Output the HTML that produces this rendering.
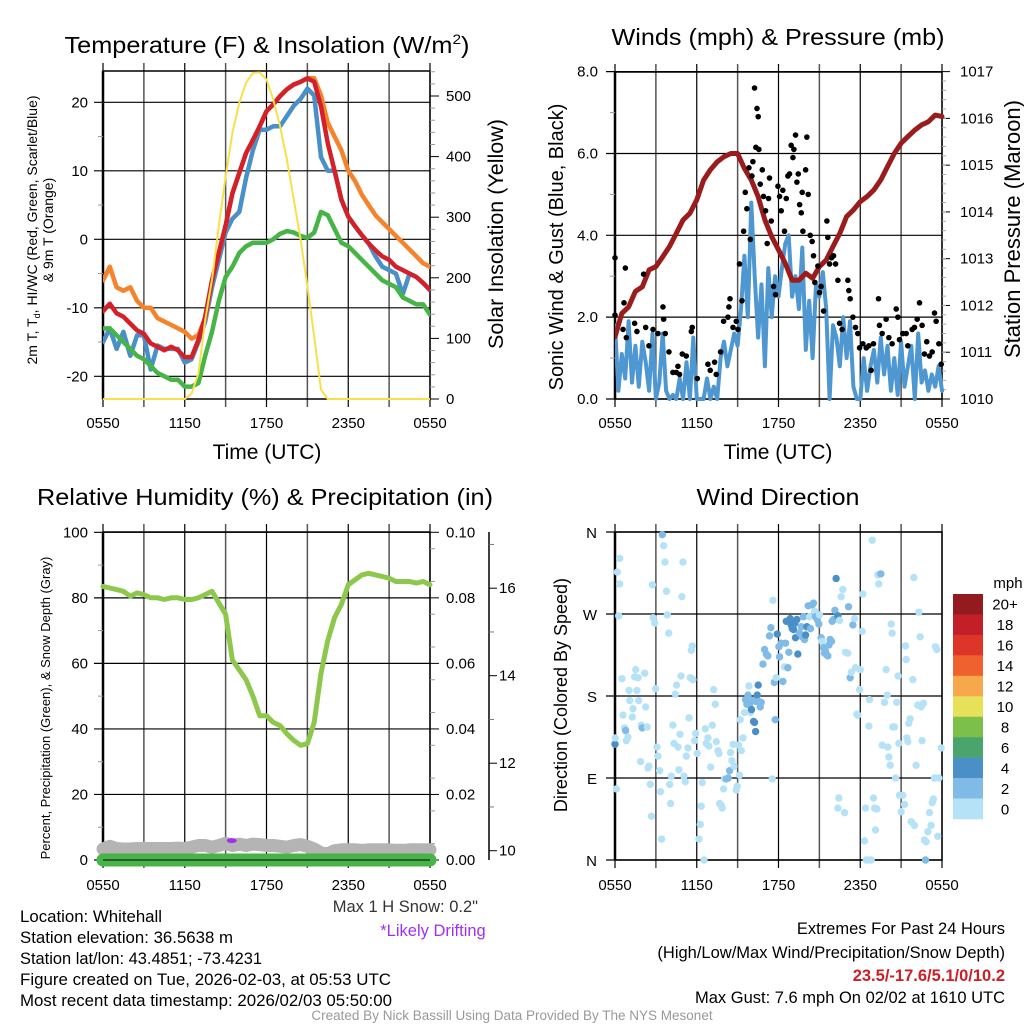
<!DOCTYPE html>
<html><head><meta charset="utf-8"><style>
html,body{margin:0;padding:0;background:#fff;}
svg{display:block;font-family:"Liberation Sans",sans-serif;}
</style></head><body>
<svg id="fig" width="1024" height="1024" viewBox="0 0 1024 1024" xmlns="http://www.w3.org/2000/svg">
<rect width="1024" height="1024" fill="#fff"/>
<g id="p1"></g>
<g id="p2"></g>
<g id="p3"></g>
<g id="p4"></g>
<g id="txt" font-size="16.5" fill="#000">
<text x="20" y="922" textLength="142" lengthAdjust="spacingAndGlyphs">Location: Whitehall</text>
<text x="20" y="943" textLength="213" lengthAdjust="spacingAndGlyphs">Station elevation: 36.5638 m</text>
<text x="20" y="964" textLength="242" lengthAdjust="spacingAndGlyphs">Station lat/lon: 43.4851; -73.4231</text>
<text x="20" y="985" textLength="371" lengthAdjust="spacingAndGlyphs">Figure created on Tue, 2026-02-03, at 05:53 UTC</text>
<text x="20" y="1006" textLength="372" lengthAdjust="spacingAndGlyphs">Most recent data timestamp: 2026/02/03 05:50:00</text>
<text x="478" y="912" text-anchor="end" fill="#333">Max 1 H Snow: 0.2"</text>
<text x="433" y="936" text-anchor="middle" fill="#a030f0">*Likely Drifting</text>
<text x="1005" y="934" text-anchor="end">Extremes For Past 24 Hours</text>
<text x="1005" y="958" text-anchor="end">(High/Low/Max Wind/Precipitation/Snow Depth)</text>
<text x="1005" y="981" text-anchor="end" fill="#cc1f26" font-weight="bold">23.5/-17.6/5.1/0/10.2</text>
<text x="1005" y="1003" text-anchor="end">Max Gust: 7.6 mph On 02/02 at 1610 UTC</text>
<text x="512" y="1020" text-anchor="middle" fill="#999" font-size="13.5">Created By Nick Bassill Using Data Provided By The NYS Mesonet</text>
</g>
</svg>
<script>
// ---------- data (half-hourly, t = hours since 0550 UTC) ----------
const tempRed = [-10.5,-9.4,-10.8,-11.3,-12.3,-13.3,-13.8,-15.2,-15.7,-16.2,-15.7,-16.2,-17.2,-17.2,-14.7,-11.3,-6,-2,2,6.7,9.7,12.6,14.5,16.5,18.7,19.7,20.9,21.9,22.6,23,23.5,23,19.4,14,10,5.8,3.3,1.9,0.6,-0.6,-1.6,-2.5,-3,-4,-4.5,-5,-5.5,-6.4,-7.4];
const temp9m = [-6,-4,-7,-7.5,-7,-9,-10,-10,-11.5,-12,-12.5,-13,-13.5,-14.5,-14,-11.5,-6,-2,2,6.7,9.7,12.6,14.5,16.5,18.7,19.7,20.9,21.9,22.6,23,23.5,23.5,21,17,15,13,10,8.5,6.5,5,3.5,2.5,1.5,0.5,-0.5,-1.5,-2.5,-3.5,-4];
const dewpt = [-13,-13,-14,-15,-16,-17,-17.5,-18.5,-19.5,-20,-20.5,-20.5,-21.5,-21.5,-21,-17,-13.5,-9,-5.5,-4,-2,-1,-0.5,-0.5,-0.5,0,0.8,1.2,1,0.5,0.2,1,4,3.5,1.5,-0.5,-1,-2,-3,-4,-5,-6,-6.5,-7,-8.5,-9,-9.5,-9.5,-11];
const windChill = [-15,-13,-16,-13.5,-17,-14,-14,-19,-15.5,-16,-16,-16,-18,-17.5,-15,-12,-7,-3,1,3,4,9,13,16,16,16.5,16.5,18,19.5,20.5,22,21,12,10,10,5.8,3.3,1.9,0.6,-0.6,-2.5,-4,-4.5,-5,-8,-5,-5.5,-6.4,-7.4];
const solar = [0,0,0,0,0,0,0,0,0,0,0,0,0,9,42,130,197,285,367,439,489,522,538,539,527,494,450,395,329,263,186,103,15,0,0,0,0,0,0,0,0,0,0,0,0,0,0,0,0];
const pressure = [1011.33,1011.83,1011.97,1012.3,1012.4,1012.76,1012.83,1013.04,1013.26,1013.54,1013.83,1013.97,1014.26,1014.68,1014.9,1015.07,1015.18,1015.25,1015.25,1014.93,1014.68,1014.33,1013.83,1013.47,1013.19,1012.9,1012.54,1012.54,1012.69,1012.58,1012.83,1012.97,1013.26,1013.54,1013.9,1014.04,1014.22,1014.33,1014.47,1014.68,1014.97,1015.25,1015.47,1015.61,1015.75,1015.86,1015.93,1016.07,1016.04];
const rh = [83.5,83,82.5,82,80.5,81.5,81,80,80,79.5,80,80,79.5,79.5,80,81,82,78.5,75,61,58,55,50,44,44,42,41,38.5,36.5,35,35.5,42,57,67,74,78,84,85.5,87,87.5,87,86.5,86,85,85,85,84.5,85,84];
const snowDepth = [10.04,10.1,10.05,10.04,10.04,10.05,10.05,10.05,10.05,10.05,10.05,10.06,10.05,10.08,10.12,10.12,10.08,10.12,10.17,10.12,10.15,10.12,10.15,10.14,10.12,10.12,10.1,10.08,10.12,10.14,10.1,10.04,9.95,9.93,10.0,10.02,10.02,10.02,10.01,10.02,10.02,10.02,10.02,10.01,10.01,10.02,10.02,10.02,10.02];
const precip = [0,0,0,0,0,0,0,0,0,0,0,0,0,0,0,0,0,0,0,0,0,0,0,0,0,0,0,0,0,0,0,0,0,0,0,0,0,0,0,0,0,0,0,0,0,0,0,0,0];
// sonic wind, 15-minute intervals (mph)
const wind = [1.8,0.2,1.1,0.5,1.9,0.4,1.3,0.3,1.4,0.9,0.2,1.6,
0.0,0.4,1.6,0.2,0.0,0.1,0.0,0.5,0.0,0.9,0.0,1.5,
0.0,0.0,0.0,0.5,0.0,0.3,0.0,1.0,1.4,0.8,1.2,1.6,
1.3,2.2,3.5,2.0,4.8,3.0,1.5,2.8,0.8,3.2,2.0,3.0,
2.5,3.2,3.8,4.0,2.5,3.0,2.2,3.7,1.2,2.4,1.0,2.8,
2.5,3.1,2.2,0.0,1.8,1.5,0.8,2.0,1.0,1.9,0.3,0.0,
0.0,1.0,0.2,0.8,1.2,0.4,1.5,0.6,1.3,0.2,1.0,0.1,
1.4,0.3,0.8,1.3,0.0,1.6,0.4,0.7,0.2,0.6,0.3,0.8,0.2];
// gusts
const gustT = [0,0,0.76,0.66,0.59,0.83,1.44,1.61,2.10,2.25,2.49,2.79,3.15,3.52,3.57,3.69,3.96,4.25,4.50,4.62,4.74,4.94,5.23,5.60,5.67,6.04,6.82,6.99,7.31,7.43,7.75,7.97,8.29,8.36,8.44,8.66,8.90,9.02,9.14,9.32,9.44,9.56,9.68,9.83,9.93,10.05,10.12,10.24,10.42,10.51,10.34,10.56,10.66,10.81,10.90,11.05,11.17,11.27,11.34,11.47,11.64,11.78,11.96,12.08,12.20,12.32,12.44,12.57,12.69,12.81,12.93,13.06,13.13,13.25,13.35,13.45,13.55,13.67,13.74,13.79,13.99,14.08,14.18,14.33,14.47,14.57,14.67,14.89,15.01,15.13,15.31,15.55,15.62,15.75,15.89,16.04,16.19,16.36,16.48,16.67,17.09,17.16,17.26,17.46,17.65,17.82,17.95,18.19,18.44,18.63,18.80,18.97,19.34,19.41,19.61,19.90,20.10,20.34,20.64,20.76,20.88,21.12,21.37,21.49,21.81,21.98,22.18,22.35,22.54,22.71,22.88,23.08,23.28,23.45,23.57,23.77,23.94];
const gustV = [3.45,2.05,3.2,2.35,1.7,1.5,1.85,1.65,3.05,1.75,1.3,1.7,1.6,2.25,1.95,1.6,1.15,0.65,0.65,0.8,0.6,1.1,1.05,1.65,1.75,0.5,0.85,0.7,0.9,0.6,1.15,1.9,2.0,2.25,2.45,1.75,1.9,1.7,3.3,2.4,4.1,5.05,4.65,5.65,3.9,5.45,5.8,7.6,7.1,6.9,6.15,6.1,5.25,5.6,4.95,4.6,3.8,4.9,5.4,4.35,2.75,2.55,5.2,4.95,4.6,5.1,4.1,4.9,5.45,5.5,6.2,5.9,6.1,6.45,5.3,5.5,4.75,4.55,5.05,4.1,5.6,6.4,5.0,4.0,3.85,3.5,2.85,3.25,2.6,2.75,2.15,4.35,3.95,3.3,3.45,3.5,3.3,2.9,1.85,1.7,2.9,2.65,2.45,2.0,1.75,1.6,1.25,1.35,1.25,1.3,0.7,1.35,2.45,1.8,1.6,1.95,1.5,1.35,2.2,2.0,1.45,1.6,1.6,1.3,1.7,1.75,1.95,2.35,1.8,1.1,1.4,1.05,1.15,2.1,1.9,1.35,0.85];
// wind direction scatter
const dirT = [0,0.10,0.02,0.34,0.17,0.34,0.27,0.51,0.59,0.71,0.78,0.83,0.95,1.03,1.08,1.32,1.27,1.44,1.52,1.61,1.74,1.69,1.88,1.93,2.00,2.18,2.25,2.37,2.42,2.49,2.59,2.67,2.74,2.79,2.91,2.98,3.08,3.15,3.28,3.35,3.42,3.47,3.57,3.67,3.77,3.84,3.94,4.01,4.08,4.13,4.25,4.33,4.43,4.52,4.62,4.69,4.77,4.84,4.91,4.99,5.06,5.16,5.23,5.35,5.43,5.53,5.60,5.67,5.72,5.84,5.92,6.04,6.16,6.26,6.33,6.41,6.53,6.63,6.70,6.82,6.89,7.02,7.14,7.24,7.36,7.43,7.56,7.63,7.68,7.80,7.87,7.97,8.04,8.17,8.31,8.41,8.48,8.58,8.66,8.73,8.90,8.97,9.07,9.14,9.19,9.27,9.39,9.51,9.58,9.68,9.76,9.83,9.88,9.95,10.02,10.10,10.17,10.24,10.32,10.37,10.44,10.51,10.56,10.66,10.73,10.86,10.98,11.10,11.22,11.34,11.44,11.54,11.59,11.69,11.76,11.83,11.91,12.03,12.08,12.20,12.32,12.44,12.52,12.57,12.69,12.76,12.86,12.93,13.01,13.11,13.20,13.25,13.35,13.42,13.55,13.67,13.74,13.84,13.91,13.99,14.08,14.18,14.28,14.35,14.47,14.57,14.65,14.72,14.84,14.96,15.01,15.13,15.21,15.31,15.38,15.45,15.55,15.62,15.70,15.79,15.89,15.94,16.04,16.14,16.23,16.36,16.43,16.48,16.36,16.60,16.72,16.85,16.92,17.09,17.14,17.26,17.34,17.46,17.58,17.65,17.75,17.82,17.95,18.00,18.14,18.19,18.31,18.39,18.44,18.56,18.63,18.68,18.80,18.88,18.97,19.05,19.12,19.22,19.29,19.36,19.51,19.61,19.78,19.90,19.98,20.02,20.10,20.20,20.27,20.34,20.39,20.51,20.59,20.68,20.78,20.83,20.88,21.00,21.12,21.25,21.32,21.37,21.42,21.49,21.56,21.66,21.74,21.86,21.93,21.98,22.10,22.22,22.30,22.40,22.47,22.54,22.64,22.71,22.79,22.84,22.96,23.08,23.20,23.28,23.37,23.45,23.52,23.62,23.69,23.77,23.94];
const dirDeg = [127,78,134,331,316,303,268,199,159,145,142,131,135,186,175,166,157,201,209,186,175,200,108,148,145,205,168,146,101,103,83,48,302,266,260,188,124,114,98,75,23,357,345,327,295,269,249,83,62,92,148,128,182,192,124,99,138,202,289,327,92,86,114,123,156,200,230,235,198,131,139,117,23,39,59,85,0,144,128,134,125,102,148,187,171,130,120,117,62,60,57,78,89,89,90,98,118,109,127,103,77,81,126,93,154,120,134,162,176,171,181,191,170,162,165,175,152,151,141,174,181,192,174,168,173,215,231,226,224,246,255,89,285,195,154,200,248,234,223,238,196,212,238,262,211,228,265,258,254,253,260,244,264,226,249,256,245,267,242,247,256,279,267,254,280,282,273,267,264,259,269,244,240,233,227,229,225,224,236,242,240,262,264,274,309,268,68,263,57,289,297,52,228,227,278,200,206,258,265,211,160,159,187,209,251,292,21,57,0,0,147,176,0,351,68,57,33,56,313,303,314,126,173,209,181,124,113,104,259,249,146,146,90,173,202,128,71,53,71,61,235,220,134,130,150,155,42,198,310,38,104,170,272,245,168,131,172,22,0,20,31,52,38,63,67,90,234,231,26,90,123];
const dirSpd = [5,1,1,1,1,1,1,1,1,1,3,1,1,1,1,1,1,1,1,1,1,1,1,1,3,1,1,1,1,1,1,1,1,1,1,1,1,1,1,1,1,3,1,1,1,1,1,1,1,1,1,1,1,1,1,1,1,1,1,1,1,1,1,1,1,1,1,1,1,1,1,1,1,1,1,1,1,1,1,1,1,1,1,1,1,1,1,1,1,1,1,1,1,3,3,3,1,1,1,1,1,1,1,1,1,1,1,1,3,3,3,1,3,1,5,3,5,5,5,3,5,5,3,3,3,3,3,3,3,3,3,1,1,3,3,1,5,3,3,3,3,1,3,5,3,3,5,5,5,5,5,5,5,5,3,3,3,3,3,5,5,3,1,3,3,3,1,3,3,3,1,3,1,3,3,3,3,3,3,3,3,3,3,3,5,5,1,1,1,1,1,1,1,1,3,3,1,3,1,1,1,1,1,1,1,1,1,1,1,1,1,1,1,1,1,1,1,1,1,1,3,1,1,1,1,1,1,1,1,1,1,1,1,1,1,1,1,1,1,1,1,1,1,1,1,1,1,1,1,1,1,1,1,1,1,1,1,1,3,1,1,1,1,1,1,1,1,1,1,1,1,1,1,1,1,1,1];
const timeLabels = ["0550","1150","1750","2350","0550"];
const tempTicks = [20,10,0,-10,-20];
const solarTicks = [0,100,200,300,400,500];
const windTicks = ["0.0","2.0","4.0","6.0","8.0"];
const presTicks = [1010,1011,1012,1013,1014,1015,1016,1017];
const rhTicks = [0,20,40,60,80,100];
const precipTicks = ["0.00","0.02","0.04","0.06","0.08","0.10"];
const snowTicks = [10,12,14,16];
const dirLabels = ["N","E","S","W","N"];
const cbarLabels = ["20+","18","16","14","12","10","8","6","4","2","0"];
const cbarColors = ["#931a1d","#c21f28","#dd3527","#ef6230","#f6a84a","#e7e15a","#7cc04b","#4aa56c","#4a8fc7","#7fbbe6","#b6e2f8"];

// ---------- helpers ----------
const NS="http://www.w3.org/2000/svg";
function el(parent, tag, attrs){const e=document.createElementNS(NS,tag);for(const k in attrs)e.setAttribute(k,attrs[k]);parent.appendChild(e);return e;}
const X0L=103,X0R=615,PW=327;
function xs(x0){return t=>x0+t/24*PW;}
const half = i=>i*0.5, quarter=i=>i*0.25;

function frame(g,x0,top,bot,hlines){
  for(let k=0;k<=8;k++){
    const x=x0+k*PW/8;
    const ln=el(g,'line',{x1:x,x2:x,y1:top-8,y2:bot+8,stroke:(k%2==0)?'#000':'#555','stroke-width':(k%2==0)?1.2:1.5});
    
  }
  hlines.forEach(y=>{const ln=el(g,'line',{x1:x0-9,x2:x0+PW,y1:y,y2:y,stroke:'#000','stroke-width':1.2});
    });
  const r=el(g,'rect',{x:x0,y:top,width:PW,height:bot-top,fill:'none',stroke:'#000','stroke-width':1.5});
  
  el(g,'line',{x1:x0,x2:x0,y1:top,y2:bot,stroke:'#000','stroke-width':2.5});
}
function xlabels(g,x0,y){
  timeLabels.forEach((s,i)=>{const t=el(g,'text',{x:x0+i*PW/4,y:y,'text-anchor':'middle','font-size':15});t.textContent=s;
    });
}
function path(g,xf,yf,vals,tf,attrs,name){
  let d='';vals.forEach((v,i)=>{if(v==null)return;d+=(d?'L':'M')+xf(tf(i)).toFixed(1)+','+yf(v).toFixed(1);});
  const p=el(g,'path',Object.assign({d:d,fill:'none','stroke-linejoin':'round','stroke-linecap':'round'},attrs));
  return p;
}
function txt(g,x,y,s,attrs,name,rot){
  const t=el(g,'text',Object.assign({x:x,y:y},attrs));t.textContent=s;
  if(rot)t.setAttribute('transform','rotate(-90 '+x+' '+y+')');
  return t;
}
function title(g,cx,y,s,w,name){
  return txt(g,cx,y,s,{'font-size':23,'text-anchor':'middle',textLength:w,lengthAdjust:'spacingAndGlyphs'},name||'panel-title');
}

// ---------- Panel 1 ----------
(function(){
  const g=document.getElementById('p1');const x=xs(X0L);
  const yT=v=>239.3-v*6.85, yS=v=>399-v*0.606;
  frame(g,X0L,71,399,tempTicks.map(yT));
  [15,5,-5,-15].forEach(v=>el(g,'line',{x1:X0L-5,x2:X0L,y1:yT(v),y2:yT(v),stroke:'#999'}));
  solarTicks.forEach(v=>{el(g,'line',{x1:430,x2:439,y1:yS(v),y2:yS(v),stroke:'#000'});
    txt(g,446,yS(v)+5,String(v),{'font-size':15},'solar-tick-label');});
  for(let v=20;v<=540;v+=20)if(v%100)el(g,'line',{x1:430,x2:435,y1:yS(v),y2:yS(v),stroke:'#999'});
  tempTicks.forEach(v=>txt(g,88,yT(v)+5,String(v),{'font-size':15,'text-anchor':'end'},'temp-tick-label'));
  xlabels(g,X0L,428);
  const clip=el(g,'clipPath',{id:'c1'});el(clip,'rect',{x:X0L,y:68,width:PW,height:334});
  const s=el(g,'g',{'clip-path':'url(#c1)'});
  path(s,x,yT,windChill,half,{stroke:'#4a90c8','stroke-width':4.5},'wind-chill-line');
  path(s,x,yT,dewpt,half,{stroke:'#46b446','stroke-width':4.5},'dewpoint-line');
  path(s,x,yT,temp9m,half,{stroke:'#f5832c','stroke-width':4.5},'temp-9m-line');
  path(s,x,yT,tempRed,half,{stroke:'#d42129','stroke-width':4.5},'temp-2m-line');
  path(s,x,yS,solar,half,{stroke:'#f8e04a','stroke-width':2},'solar-line');
  const t1=txt(g,267,53,'',{'font-size':23,'text-anchor':'middle',textLength:405,lengthAdjust:'spacingAndGlyphs'},'panel-title');
  t1.innerHTML='Temperature (F) &amp; Insolation (W/m<tspan font-size="14" dy="-9">2</tspan><tspan dy="9">)</tspan>';
  txt(g,267,459,'Time (UTC)',{'font-size':21,'text-anchor':'middle'},'x-axis-title');
  txt(g,37,230,'',{'font-size':14,'text-anchor':'middle'},'y-axis-title',true).innerHTML='2m T, T<tspan font-size="9" dy="3">d</tspan><tspan dy="-3">, HI/WC (Red, Green, Scarlet/Blue)</tspan>';
  txt(g,53,230,'& 9m T (Orange)',{'font-size':14,'text-anchor':'middle'},'y-axis-title-2',true);
  txt(g,503,234,'Solar Insolation (Yellow)',{'font-size':21.5,'text-anchor':'middle'},'right-axis-title',true);
})();

// ---------- Panel 2 ----------
(function(){
  const g=document.getElementById('p2');const x=xs(X0R);
  const yW=v=>399-v*40.92, yP=p=>399-(p-1010)*46.77;
  frame(g,X0R,72,399,windTicks.map(s=>yW(parseFloat(s))));
  [1,3,5,7].forEach(v=>el(g,'line',{x1:X0R-5,x2:X0R,y1:yW(v),y2:yW(v),stroke:'#999'}));
  windTicks.forEach(s=>txt(g,598,yW(parseFloat(s))+5,s,{'font-size':15,'text-anchor':'end'},'wind-tick-label'));
  presTicks.forEach(p=>{el(g,'line',{x1:942,x2:950,y1:yP(p),y2:yP(p),stroke:'#000'});
    txt(g,960,yP(p)+5,String(p),{'font-size':15},'pressure-tick-label');});
  for(let p=1010.2;p<1017;p+=0.2)el(g,'line',{x1:942,x2:946,y1:yP(p),y2:yP(p),stroke:'#aaa'});
  xlabels(g,X0R,428);
  const clip=el(g,'clipPath',{id:'c2'});el(clip,'rect',{x:X0R,y:68,width:PW+4,height:334});
  const s=el(g,'g',{'clip-path':'url(#c2)'});
  path(s,x,yW,wind,quarter,{stroke:'#4e97d0','stroke-width':4},'sonic-wind-line');
  gustT.forEach((t,i)=>{const c=el(g,'circle',{cx:x(t),cy:yW(gustV[i]),r:2.8,fill:'#000'});
    });
  path(s,x,yP,pressure,half,{stroke:'#9b1c1c','stroke-width':5},'pressure-line');
  title(g,778,45,'Winds (mph) & Pressure (mb)',333);
  txt(g,778,459,'Time (UTC)',{'font-size':21,'text-anchor':'middle'},'x-axis-title');
  txt(g,563,247,'Sonic Wind & Gust (Blue, Black)',{'font-size':20,'text-anchor':'middle'},'y-axis-title',true);
  txt(g,1020,229,'Station Pressure (Maroon)',{'font-size':22,'text-anchor':'middle'},'right-axis-title',true);
})();

// ---------- Panel 3 ----------
(function(){
  const g=document.getElementById('p3');const x=xs(X0L);
  const yR=v=>860-v*3.277, yPr=v=>860-v*3277, ySn=v=>850.7-(v-10)*43.75;
  frame(g,X0L,532,860,rhTicks.map(yR));
  [10,30,50,70,90].forEach(v=>el(g,'line',{x1:X0L-5,x2:X0L,y1:yR(v),y2:yR(v),stroke:'#999'}));
  rhTicks.forEach(v=>txt(g,88,yR(v)+5,String(v),{'font-size':15,'text-anchor':'end'},'rh-tick-label'));
  precipTicks.forEach(s=>{const v=parseFloat(s);el(g,'line',{x1:430,x2:439,y1:yPr(v),y2:yPr(v),stroke:'#000'});
    txt(g,446,yPr(v)+5,s,{'font-size':15},'precip-tick-label');});
  for(let v=0.005;v<0.1;v+=0.01)el(g,'line',{x1:430,x2:435,y1:yPr(v),y2:yPr(v),stroke:'#999'});
  el(g,'line',{x1:489,x2:489,y1:532,y2:860,stroke:'#000','stroke-width':1.5});
  snowTicks.forEach(v=>{el(g,'line',{x1:489,x2:497,y1:ySn(v),y2:ySn(v),stroke:'#000'});
    txt(g,499,ySn(v)+5,String(v),{'font-size':15},'snow-tick-label');});
  [11,13,15,17].forEach(v=>{if(ySn(v)>532)el(g,'line',{x1:489,x2:494,y1:ySn(v),y2:ySn(v),stroke:'#777'});});
  xlabels(g,X0L,890);
  path(g,x,ySn,snowDepth,half,{stroke:'#b4b4b4','stroke-width':13},'snow-depth-line');
  path(g,x,yPr,precip,half,{stroke:'#46b446','stroke-width':13},'precip-line');
  el(g,'line',{x1:X0L,x2:430,y1:860,y2:860,stroke:'#222','stroke-width':1.2});
  path(g,x,yR,rh,half,{stroke:'#8dc84c','stroke-width':5},'rh-line');
  const dot=el(g,'ellipse',{cx:x(9.45),cy:ySn(10.23),rx:5,ry:2.5,fill:'#a030f0'});
  
  title(g,265,505,'Relative Humidity (%) & Precipitation (in)',456);
  txt(g,50,708,'Percent, Precipitation (Green), & Snow Depth (Gray)',{'font-size':13,'text-anchor':'middle'},'y-axis-title',true);
})();

// ---------- Panel 4 ----------
(function(){
  const g=document.getElementById('p4');const x=xs(X0R);
  const yD=d=>860-d/360*328;
  frame(g,X0R,532,860,[0,90,180,270,360].map(yD));
  dirLabels.forEach((s,i)=>txt(g,597,yD(i*90)+6,s,{'font-size':15,'text-anchor':'end'},'direction-tick-label'));
  xlabels(g,X0R,890);
  const col=s=>s>=4?'#4a8fc7':(s>=2?'#7fbbe6':'#b6e2f8');
  dirT.forEach((t,i)=>{const c=el(g,'circle',{cx:x(t),cy:yD(dirDeg[i]),r:3.7,fill:col(dirSpd[i])});
    });
  const bh=(819-594)/11;
  cbarColors.forEach((c,i)=>{const r=el(g,'rect',{x:953,y:594+i*bh,width:30,height:bh+0.3,fill:c});
    
    txt(g,1005,594+i*bh+bh/2+5.5,cbarLabels[i],{'font-size':15,'text-anchor':'middle'},'colorbar-label');});
  txt(g,1008,588,'mph',{'font-size':15,'text-anchor':'middle'},'colorbar-title');
  title(g,778,505,'Wind Direction',163);
  txt(g,567,695,'Direction (Colored By Speed)',{'font-size':18,'text-anchor':'middle'},'y-axis-title',true);
})();
</script>
</body></html>
